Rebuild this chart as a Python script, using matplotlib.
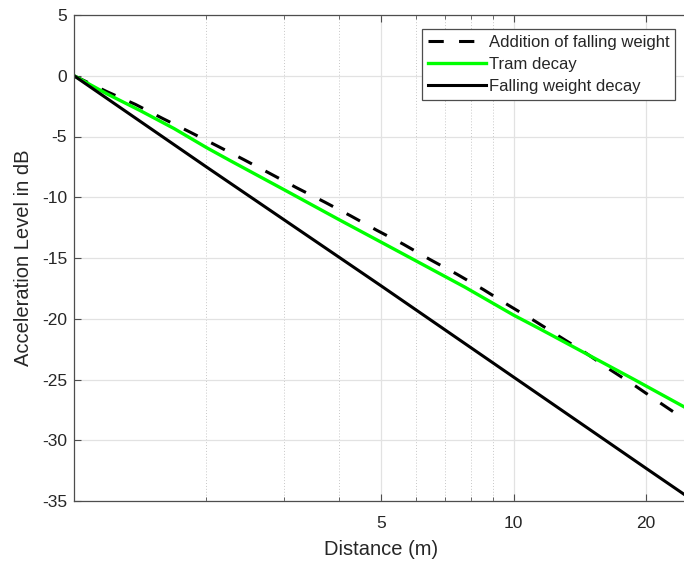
import matplotlib
matplotlib.use("Agg")
import matplotlib.pyplot as plt
from matplotlib.ticker import FixedLocator, NullFormatter, FixedFormatter

plt.rcParams['font.family'] = ['Liberation Sans', 'DejaVu Sans']
plt.rcParams['axes.unicode_minus'] = False

# distance in m, level in dB
dist_add = [1, 1.19, 1.38, 1.59, 1.83, 2.10, 2.43, 2.79, 3.21, 3.71, 4.26, 4.88,
            5.61, 6.45, 7.43, 8.54, 9.75, 11.19, 12.7, 14.5, 16.6, 19.05, 21.7, 25]
level_add = [0, -1.32, -2.36, -3.51, -4.61, -5.71, -6.89, -8.04, -9.22, -10.38, -11.53, -12.71,
             -13.86, -15.12, -16.33, -17.6, -18.9, -20.2, -21.45, -22.75, -24.2, -25.6, -27.0, -28.5]

dist_tram = [1, 1.19, 1.42, 1.69, 2.01, 2.27, 3.02, 4.03, 5.23, 7.75, 10, 11.5, 18.7, 25]
level_tram = [0, -1.5, -2.9, -4.35, -5.95, -7.0, -9.42, -11.89, -14.08, -17.4, -19.7, -20.85, -24.95, -27.45]

dist_fw = [1, 2, 5, 10, 20, 25]
level_fw = [0, -7.5, -17.3, -24.8, -32.3, -34.7]

xticks = [5, 10, 20]
xtick_labels = ['5', '10', '20']
xminor = [2, 3, 4, 6, 7, 8, 9]
yticks = [-35, -30, -25, -20, -15, -10, -5, 0, 5]

fig = plt.figure(figsize=(6.84, 5.65), dpi=100)
# axes run slightly past the right edge of the figure
ax = fig.add_axes([74 / 684, 64 / 565, 614.5 / 684, 486 / 565])

ax.plot(dist_add, level_add, color='black', lw=2.2, ls=(0, (5, 5)),
        label='Addition of falling weight')
ax.plot(dist_tram, level_tram, color='#00ff00', lw=2.4, label='Tram decay')
ax.plot(dist_fw, level_fw, color='black', lw=2.2, label='Falling weight decay')

ax.set_xscale('log')
ax.set_xlim(1, 25)
ax.set_ylim(-35, 5)
ax.xaxis.set_major_locator(FixedLocator(xticks))
ax.xaxis.set_major_formatter(FixedFormatter(xtick_labels))
ax.xaxis.set_minor_locator(FixedLocator(xminor))
ax.xaxis.set_minor_formatter(NullFormatter())
ax.set_yticks(yticks)

ax.grid(which='major', color='#e2e2e2', lw=0.9, ls='-')
ax.grid(which='minor', axis='x', color='#c8c8c8', lw=0.7, ls=(0, (1, 2)))
ax.set_axisbelow(True)

for side in ['left', 'bottom', 'top']:
    ax.spines[side].set_color('#4d4d4d')
    ax.spines[side].set_linewidth(0.9)
ax.spines['right'].set_visible(False)

ax.tick_params(which='both', direction='in', top=True, right=False,
               colors='#4d4d4d', labelcolor='#262626', labelsize=12.5)
ax.tick_params(which='major', length=5, width=0.8)
ax.tick_params(which='minor', length=3, width=0.6)
ax.tick_params(axis='x', pad=11)
ax.tick_params(axis='y', pad=5)

ax.set_xlabel('Distance (m)', fontsize=14.5, color='#262626', labelpad=6)
ax.set_ylabel('Acceleration Level in dB', fontsize=14.5, color='#262626', labelpad=6)

leg = ax.legend(loc='upper right', bbox_to_anchor=(675 / 684, 1 - 29.3 / 565),
                bbox_transform=fig.transFigure, borderaxespad=0, fontsize=12,
                fancybox=False, framealpha=1, edgecolor='#4d4d4d',
                handlelength=3.5, handletextpad=0.15, labelspacing=0.42, borderpad=0.35)
leg.get_frame().set_linewidth(0.9)
for t in leg.get_texts():
    t.set_color('#262626')

fig.savefig('out.png', dpi=100)
